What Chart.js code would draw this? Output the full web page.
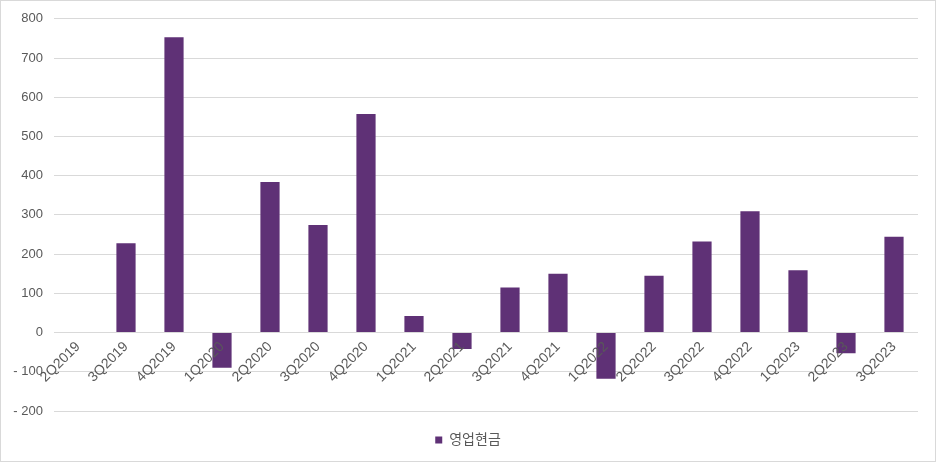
<!DOCTYPE html>
<html>
<head>
<meta charset="utf-8">
<script src="https://cdn.jsdelivr.net/npm/chart.js@4"></script>
<style>
  html, body { margin: 0; padding: 0; background: #fff; }
  #wrap { width: 936px; height: 462px; position: relative; }
</style>
</head>
<body>
<div id="wrap"><canvas id="chart"></canvas></div>
<script>
// quarters on the x axis
const QUARTERS = ['2Q2019', '3Q2019', '4Q2019', '1Q2020', '2Q2020', '3Q2020', '4Q2020', '1Q2021', '2Q2021',
    '3Q2021', '4Q2021', '1Q2022', '2Q2022', '3Q2022', '4Q2022', '1Q2023', '2Q2023', '3Q2023'];
// operating cash flow per quarter
const CASH_FLOW = [0, 228, 753, -90, 384, 274, 557, 42, -42, 115, 150, -118, 145, 232, 309, 159, -53, 244];
const SERIES_NAME = '영업현금';
const Y_MIN = -200;
const Y_MAX = 800;
const Y_STEP = 100;

const BAR_COLOR = '#5f3176';
const GRID_COLOR = '#d9d9d9';
const TEXT_COLOR = '#595959';
const FONT = "'Liberation Sans', 'Noto Sans CJK KR', sans-serif";

// light frame round the whole picture
const frame = {
    id: 'frame',
    afterDraw(chart) {
        const ctx = chart.ctx;
        ctx.save();
        ctx.strokeStyle = GRID_COLOR;
        ctx.lineWidth = 1;
        ctx.strokeRect(0.5, 0.5, chart.width - 1, chart.height - 1);
        ctx.restore();
    }
};

new Chart(document.getElementById('chart'), {
    type: 'bar',
    data: {
        labels: QUARTERS,
        datasets: [{
            label: SERIES_NAME,
            data: CASH_FLOW,
            backgroundColor: BAR_COLOR,
            borderWidth: 0,
            barPercentage: 0.5,
            categoryPercentage: 0.8
        }]
    },
    options: {
        responsive: true,
        maintainAspectRatio: false,
        animation: false,
        layout: { padding: { top: 17, right: 0, bottom: 5, left: 0 } },
        scales: {
            x: {
                position: { y: 0 },
                grid: { display: false, drawTicks: false },
                border: { display: false },
                ticks: {
                    z: 1, // labels sit on top of the bars
                    color: TEXT_COLOR,
                    font: { family: FONT, size: 14 },
                    minRotation: 45,
                    maxRotation: 45,
                    autoSkip: false,
                    padding: 6
                }
            },
            y: {
                min: Y_MIN,
                max: Y_MAX,
                afterFit: (scale) => { scale.width = 54; },
                grid: { color: GRID_COLOR, lineWidth: 1, drawTicks: false },
                border: { display: false },
                ticks: {
                    stepSize: Y_STEP,
                    color: TEXT_COLOR,
                    font: { family: FONT, size: 13 },
                    padding: 11,
                    callback: (v) => v < 0 ? '- ' + Math.abs(v) : String(v)
                }
            },
            // empty right margin, keeps the legend centred on the page
            yRight: {
                position: 'right',
                afterFit: (scale) => { scale.width = 18; },
                grid: { display: false, drawTicks: false },
                border: { display: false },
                ticks: { display: false }
            }
        },
        plugins: {
            legend: {
                position: 'bottom',
                labels: {
                    color: TEXT_COLOR,
                    font: { family: FONT, size: 14 },
                    boxWidth: 7,
                    boxHeight: 7,
                    padding: 22
                }
            },
            tooltip: { enabled: false }
        }
    },
    plugins: [frame]
});
</script>
</body>
</html>
